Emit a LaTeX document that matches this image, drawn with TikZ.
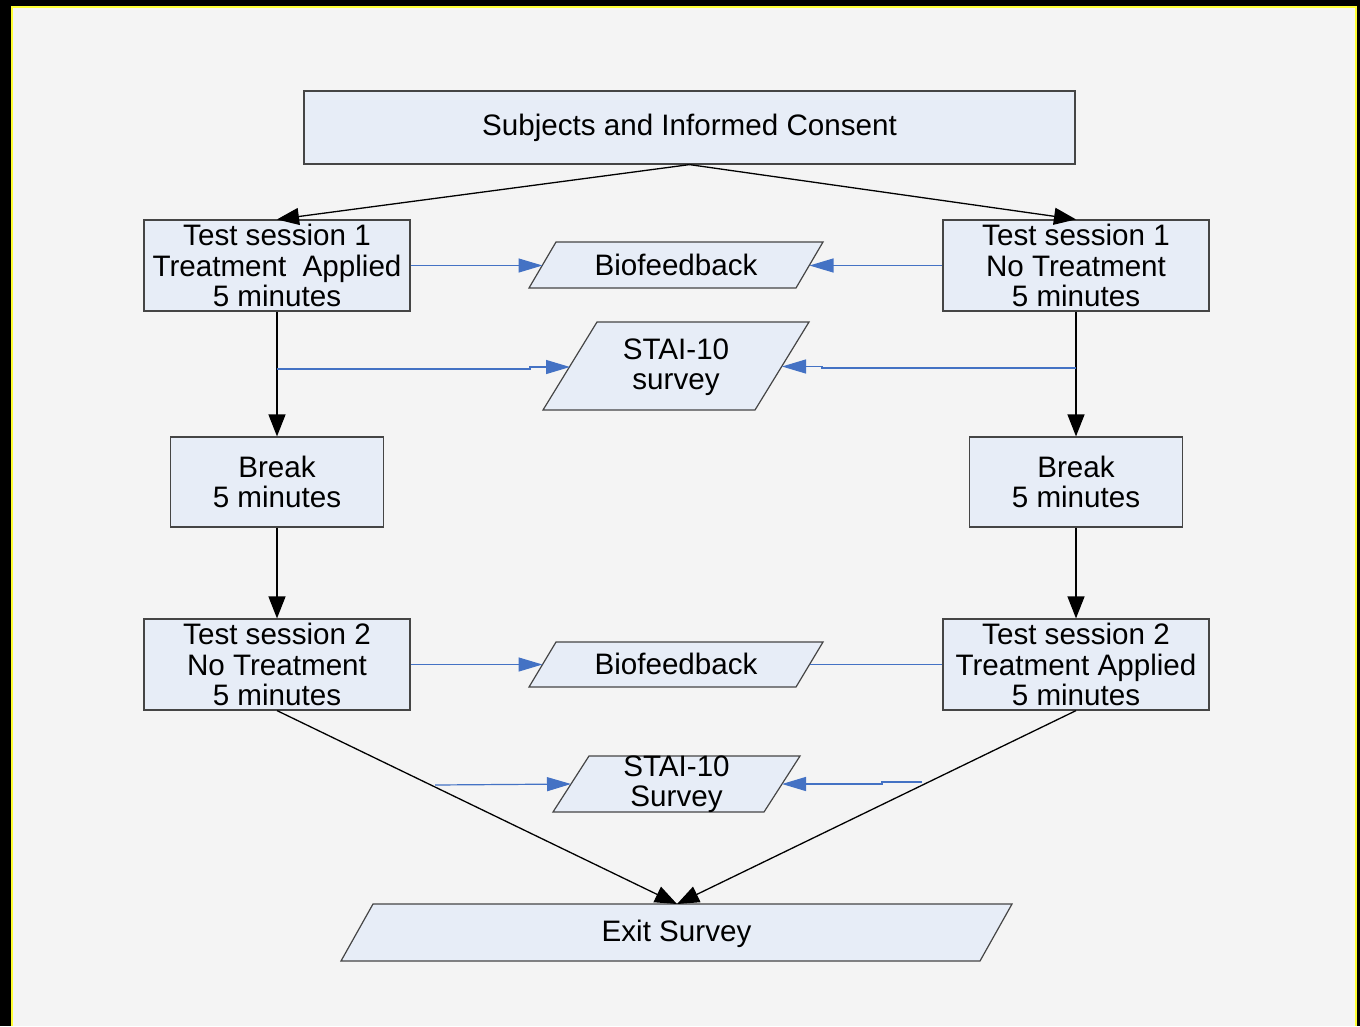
\documentclass[tikz,border=0pt]{standalone}
\usepackage{fontspec}
\setmainfont{Liberation Sans}
\usetikzlibrary{arrows.meta}
\definecolor{bg}{HTML}{F4F4F4}
\definecolor{boxfill}{HTML}{E7EDF7}
\definecolor{boxline}{HTML}{454545}
\definecolor{blueline}{HTML}{4472C4}
\definecolor{frameyellow}{HTML}{FFFF33}
\begin{document}
\begin{tikzpicture}[x=1pt,y=-1pt,
  txt/.style={font=\fontsize{29.6}{30.5}\selectfont},
  box/.style={txt, draw=boxline, line width=1.2pt, fill=boxfill, inner sep=0pt, align=center},
  para/.style={draw=boxline, line width=1.2pt, fill=boxfill, line join=miter},
  lbl/.style={txt, inner sep=0pt, align=center},
  flow/.style={black, line width=1.3pt, -{Triangle[length=22pt,width=17pt]}},
  fb/.style={blueline, line width=1.2pt, -{Triangle[length=24pt,width=14pt]}},
  fbline/.style={blueline, line width=1.2pt}]
% background and frame
\fill[black] (0,0) rectangle (1360,1026);
\fill[frameyellow] (11,5.7) rectangle (1357,1026);
\fill[bg] (13.3,7.5) rectangle (1355,1026);
\useasboundingbox (0,0) rectangle (1360,1026);

% rectangular boxes
\node[box, minimum width=771pt, minimum height=73pt] (top) at (689.5,127.5) {\raisebox{-2pt}{Subjects and Informed Consent}};
\node[box, minimum width=266pt, minimum height=91pt] (ts1l) at (277,265.5) {Test session 1\\Treatment\ \ Applied\\5 minutes};
\node[box, minimum width=266pt, minimum height=91pt] (ts1r) at (1076,265.5) {Test session 1\\No Treatment\\5 minutes};
\node[box, minimum width=213pt, minimum height=90pt] (brl) at (277,482) {Break\\5 minutes};
\node[box, minimum width=213pt, minimum height=90pt] (brr) at (1076,482) {Break\\5 minutes};
\node[box, minimum width=266pt, minimum height=91pt] (ts2l) at (277,664.5) {Test session 2\\No Treatment\\5 minutes};
\node[box, minimum width=266pt, minimum height=91pt] (ts2r) at (1076,664.5) {Test session 2\\Treatment Applied\\5 minutes};

% parallelograms
\draw[para] (556,242) -- (823,242) -- (796,288) -- (529,288) -- cycle;
\node[lbl] (bio1) at (676,265) {Biofeedback};
\coordinate (bio1w) at (542.5,265.5);
\coordinate (bio1e) at (809.5,265.5);

\draw[para] (597,322) -- (809,322) -- (755,410) -- (543,410) -- cycle;
\node[lbl] (stai1) at (676,367) {STAI-10\\survey};
\coordinate (stai1w) at (570,367);
\coordinate (stai1e) at (782,366.5);

\draw[para] (556,642) -- (823,642) -- (796,687) -- (529,687) -- cycle;
\node[lbl] (bio2) at (676,664) {Biofeedback};
\coordinate (bio2w) at (542.5,664.5);
\coordinate (bio2e) at (809.5,664.5);

\draw[para] (589,756) -- (800,756) -- (764,812) -- (553,812) -- cycle;
\node[lbl] (stai2) at (676.5,784) {STAI-10\\Survey};
\coordinate (stai2w) at (571,784);
\coordinate (stai2e) at (782,784);

\draw[para] (373,904) -- (1012,904) -- (980,961) -- (341,961) -- cycle;
\node[lbl] (exit) at (676.5,934) {Exit Survey};
\coordinate (exitn) at (677,904);

% black flow arrows
\draw[flow] (top.south) -- (ts1l.north);
\draw[flow] (top.south) -- (ts1r.north);
\draw[flow] (ts1l.south) -- (brl.north);
\draw[flow] (ts1r.south) -- (brr.north);
\draw[flow] (brl.south) -- (ts2l.north);
\draw[flow] (brr.south) -- (ts2r.north);
\draw[flow] (ts2l.south) -- (exitn);
\draw[flow] (ts2r.south) -- (exitn);

% blue feedback arrows
\draw[fb] (ts1l.east) -- (bio1w);
\draw[fb] (ts1r.west) -- (bio1e);
\coordinate (s1l) at (277,369);
\coordinate (s1r) at (1076,368);
\draw[fb] (s1l) -- (530,369) -- (530,367) -- (stai1w);
\draw[fb] (s1r) -- (822,368) -- (822,366.5) -- (stai1e);
\draw[fb] (ts2l.east) -- (bio2w);
\draw[fbline] (bio2e) -- (ts2r.west);
\coordinate (s2l) at (435,785);
\coordinate (s2r) at (922,782);
\draw[fb] (s2l) -- (stai2w);
\draw[fb] (s2r) -- (882,782) -- (882,784) -- (stai2e);
\end{tikzpicture}
\end{document}
